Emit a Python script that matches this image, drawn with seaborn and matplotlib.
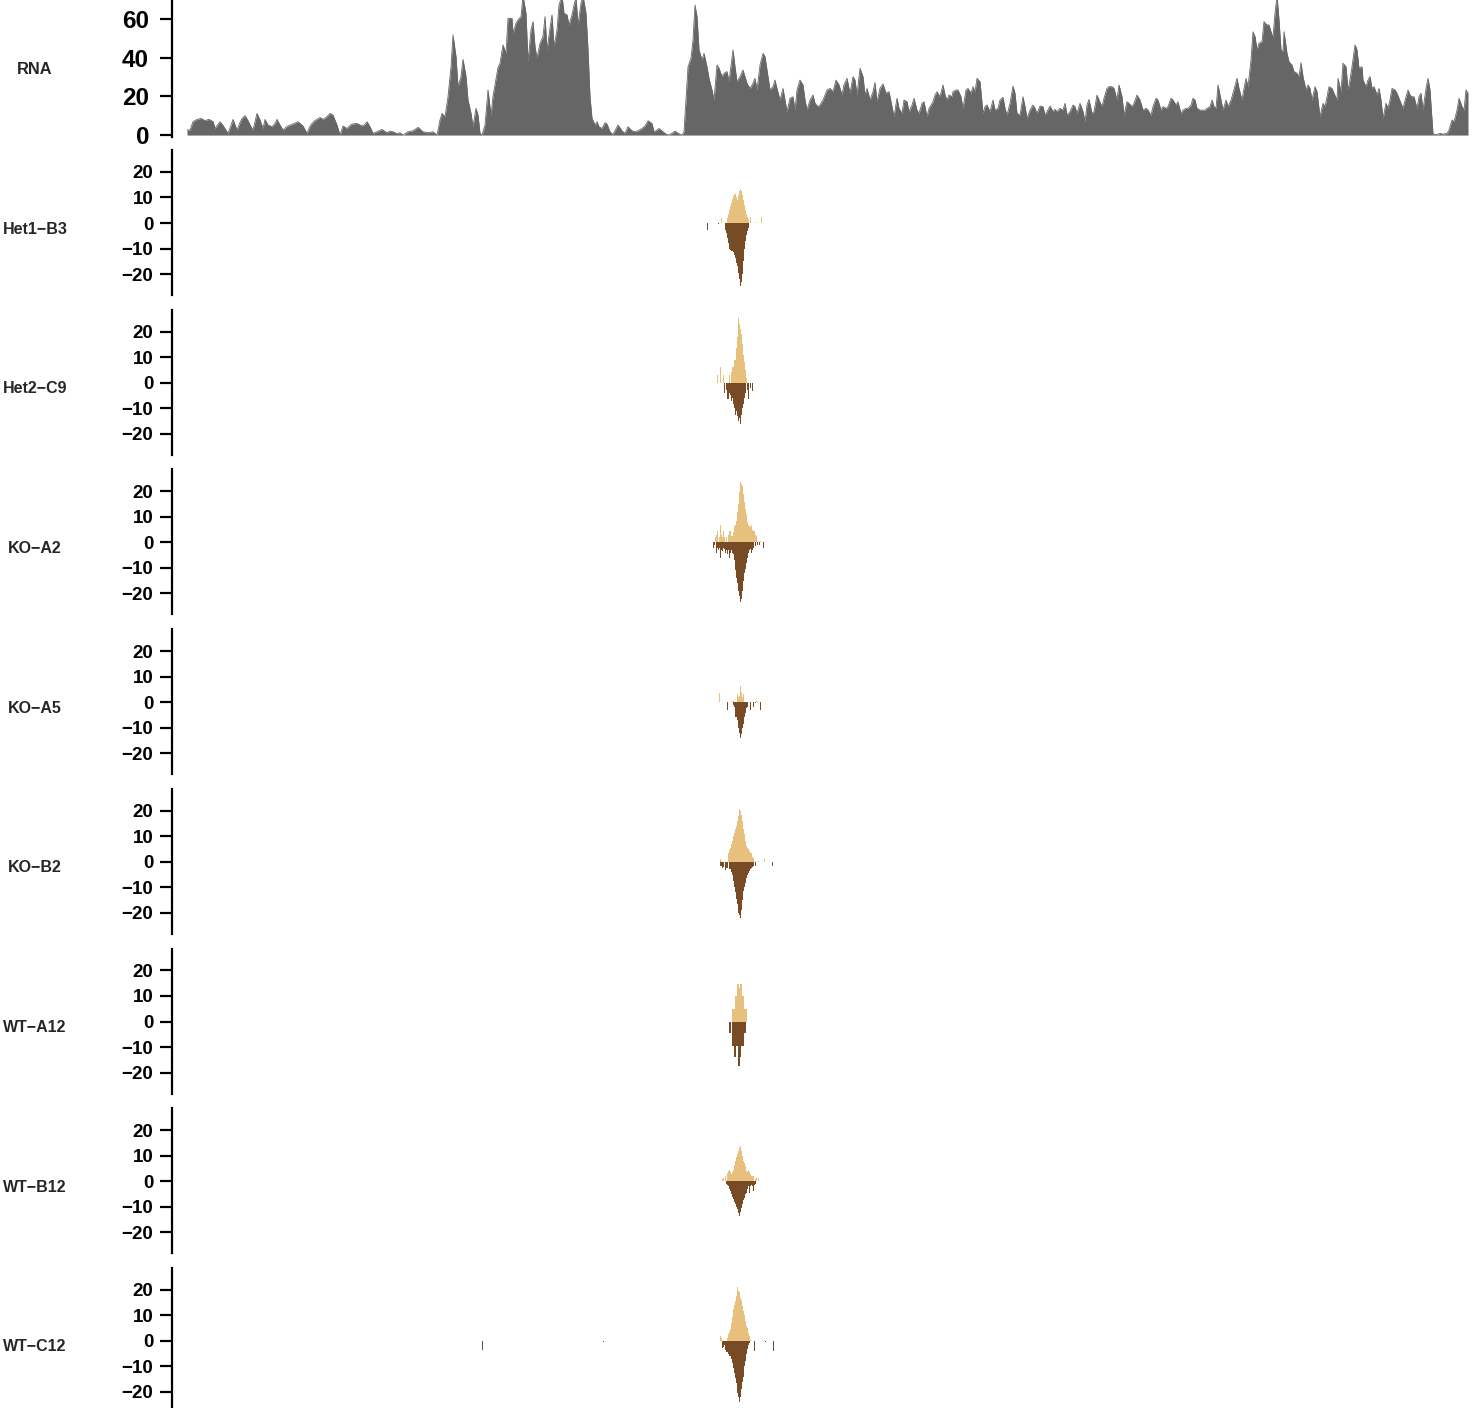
import numpy as np
import pandas as pd
import matplotlib
matplotlib.use("Agg")
import matplotlib.pyplot as plt
import seaborn as sns

sns.set_theme(style="white")
plt.rcParams['font.family'] = ['Liberation Sans', 'DejaVu Sans']
plt.rcParams['font.weight'] = 'bold'

# ---------------- data ----------------
track_labels = ["Het1\u2212B3", "Het2\u2212C9", "KO\u2212A2", "KO\u2212A5",
                "KO\u2212B2", "WT\u2212A12", "WT\u2212B12", "WT\u2212C12"]
rna_label = "RNA"
rna_ticks = [0, 20, 40, 60]
track_ticks = [-20, -10, 0, 10, 20]

# RNA coverage (genomic bin, coverage)
rna_pos = [187, 190, 193, 197, 201, 205, 209, 213, 215, 218, 220, 223, 225, 228, 231, 233, 237, 240, 242, 245,
           248, 250, 253, 257, 260, 263, 265, 268, 272, 275, 277, 280, 283, 286, 288, 293, 298, 303, 307, 310,
           312, 315, 317, 320, 323, 327, 330, 333, 337, 340, 343, 347, 350, 352, 357, 362, 365, 367, 370, 373,
           377, 382, 387, 390, 393, 397, 400, 403, 406, 408, 413, 418, 423, 428, 433, 437, 440, 442, 445, 448,
           451, 453, 456, 458, 461, 463, 466, 468, 471, 473, 476, 478, 480, 482, 485, 488, 491, 493, 495, 498,
           500, 503, 506, 508, 512, 513, 516, 518, 521, 523, 526, 528, 531, 533, 535, 537, 540, 543, 545, 547,
           550, 552, 554, 557, 559, 562, 564, 567, 569, 572, 574, 576, 578, 581, 583, 586, 588, 590, 592, 595,
           597, 599, 602, 605, 607, 610, 613, 618, 622, 625, 628, 632, 635, 638, 642, 645, 648, 652, 654, 657,
           659, 663, 665, 668, 672, 675, 678, 682, 684, 686, 688, 691, 693, 695, 697, 699, 702, 704, 707, 709,
           712, 714, 717, 719, 722, 724, 727, 729, 733, 735, 737, 740, 743, 745, 747, 750, 753, 755, 757, 760,
           763, 765, 767, 770, 773, 775, 777, 780, 783, 785, 787, 790, 793, 795, 797, 800, 803, 805, 807, 810,
           813, 815, 818, 820, 823, 827, 830, 833, 836, 839, 842, 844, 847, 850, 853, 855, 857, 860, 863, 865,
           867, 870, 873, 875, 877, 880, 883, 886, 889, 892, 894, 897, 899, 902, 904, 907, 909, 912, 914, 917,
           919, 922, 924, 927, 929, 933, 935, 937, 940, 943, 945, 947, 949, 952, 953, 956, 958, 961, 963, 966,
           968, 971, 973, 975, 977, 980, 983, 985, 987, 990, 993, 995, 998, 1000, 1003, 1005, 1007, 1010, 1013, 1015,
           1017, 1020, 1023, 1025, 1027, 1030, 1033, 1035, 1037, 1040, 1043, 1045, 1047, 1050, 1053, 1055, 1057, 1060, 1063, 1065,
           1067, 1070, 1073, 1075, 1077, 1080, 1083, 1085, 1087, 1089, 1092, 1094, 1097, 1099, 1102, 1104, 1107, 1109, 1112, 1114,
           1117, 1119, 1122, 1124, 1127, 1129, 1132, 1134, 1137, 1140, 1143, 1146, 1148, 1151, 1153, 1156, 1158, 1161, 1163, 1166,
           1168, 1171, 1173, 1176, 1178, 1181, 1183, 1186, 1188, 1191, 1193, 1195, 1197, 1200, 1203, 1205, 1207, 1210, 1212, 1214,
           1216, 1218, 1221, 1223, 1226, 1228, 1231, 1233, 1237, 1239, 1242, 1244, 1246, 1248, 1251, 1253, 1255, 1257, 1259, 1262,
           1264, 1267, 1269, 1272, 1273, 1275, 1277, 1279, 1281, 1283, 1284, 1287, 1289, 1292, 1294, 1297, 1299, 1301, 1303, 1306,
           1308, 1310, 1312, 1315, 1317, 1320, 1323, 1325, 1327, 1329, 1332, 1334, 1337, 1338, 1341, 1343, 1346, 1348, 1350, 1352,
           1355, 1357, 1359, 1362, 1363, 1366, 1368, 1370, 1372, 1374, 1377, 1379, 1381, 1383, 1386, 1388, 1390, 1392, 1395, 1397,
           1399, 1401, 1403, 1406, 1408, 1410, 1412, 1414, 1417, 1419, 1421, 1423, 1426, 1428, 1430, 1432, 1433, 1437, 1440, 1443,
           1447, 1449, 1452, 1454, 1457, 1459, 1462, 1464, 1466, 1468]
rna_cov = [2.6, 2.6, 6.9, 8.1, 8.6, 7.5, 8.1, 7.0, 3.4, 5.5, 6.9, 5.0, 3.4, 0.9, 5.0, 8.1, 2.6, 6.5, 8.6, 10.0,
           7.5, 5.2, 2.6, 11.2, 7.8, 3.4, 8.1, 5.2, 4.3, 6.0, 8.1, 5.2, 2.6, 4.0, 4.7, 5.7, 6.9, 4.7, 0.9, 4.5,
           6.0, 7.5, 8.1, 9.1, 8.1, 9.5, 11.2, 10.3, 5.2, 0.0, 4.7, 3.4, 5.0, 5.7, 6.0, 4.7, 5.5, 6.9, 4.3, 0.9,
           1.7, 2.9, 1.2, 2.0, 1.7, 0.8, 1.2, 0.0, 1.0, 1.7, 2.2, 4.0, 1.7, 1.2, 1.7, 0.0, 7.8, 11.2, 9.5, 19.8,
           35.3, 51.7, 40.5, 25.0, 30.2, 39.1, 30.2, 18.1, 11.2, 4.3, 13.8, 10.3, 0.9, 0.0, 5.2, 23.3, 10.0, 20.0, 26.0, 35.0,
           37.1, 46.6, 42.2, 60.3, 60.3, 52.6, 57.8, 59.5, 61.2, 72.0, 62.9, 37.9, 54.3, 58.6, 45.7, 39.7, 47.4, 50.9, 61.2, 44.0,
           55.2, 62.1, 45.7, 54.3, 67.2, 72.0, 62.9, 62.1, 56.9, 62.1, 67.2, 71.0, 56.9, 68.1, 72.0, 62.9, 44.0, 19.8, 8.6, 5.2,
           6.9, 4.3, 3.4, 6.4, 5.7, 1.7, 0.3, 5.2, 2.2, 0.9, 4.3, 2.2, 1.7, 2.2, 3.4, 4.7, 7.4, 6.0, 1.7, 2.6,
           3.4, 1.7, 0.9, 0.0, 0.9, 2.1, 0.9, 0.0, 1.7, 18.1, 35.3, 39.7, 49.1, 67.2, 61.2, 44.0, 38.8, 42.2, 35.3, 29.3,
           23.3, 18.1, 36.2, 34.5, 30.2, 31.9, 32.8, 27.6, 44.0, 35.3, 27.6, 30.2, 33.6, 30.2, 26.7, 24.1, 26.7, 29.3, 23.3, 36.2,
           42.2, 40.5, 33.6, 23.3, 25.0, 28.4, 24.1, 18.1, 24.1, 18.1, 12.1, 19.0, 19.8, 12.9, 23.3, 28.4, 25.9, 18.1, 12.9, 18.1,
           20.7, 16.4, 14.7, 15.5, 18.1, 23.3, 24.1, 22.4, 28.4, 25.9, 20.7, 25.9, 29.3, 21.6, 30.2, 28.4, 20.7, 34.5, 30.2, 20.7,
           24.1, 18.1, 22.4, 27.1, 17.2, 24.1, 26.4, 21.6, 22.4, 14.7, 9.5, 19.0, 13.8, 11.2, 18.1, 17.2, 12.1, 15.5, 19.0, 12.9,
           11.2, 16.4, 17.2, 9.5, 13.8, 17.2, 20.7, 22.4, 19.8, 25.9, 20.7, 18.1, 20.7, 19.8, 22.4, 23.3, 23.3, 19.8, 13.8, 23.3,
           24.1, 21.6, 25.0, 22.4, 29.3, 27.6, 11.2, 14.7, 15.5, 12.1, 18.1, 12.9, 13.8, 18.1, 19.5, 13.8, 10.3, 16.4, 25.3, 21.6,
           11.2, 10.3, 19.8, 14.7, 8.6, 12.9, 15.5, 13.8, 11.2, 15.0, 14.7, 10.3, 12.1, 15.0, 12.1, 13.3, 12.1, 13.8, 12.9, 16.4,
           10.3, 12.1, 15.5, 14.7, 11.2, 16.4, 12.1, 6.9, 15.5, 18.4, 11.2, 12.1, 20.7, 18.1, 14.7, 19.0, 24.1, 25.0, 25.0, 24.1,
           18.1, 25.9, 19.8, 10.3, 17.2, 16.4, 14.7, 16.4, 20.7, 18.1, 12.9, 13.8, 12.9, 10.3, 14.7, 19.0, 18.1, 12.9, 14.7, 13.8,
           14.7, 19.0, 18.1, 15.5, 17.2, 11.2, 12.9, 13.8, 13.8, 15.5, 19.0, 18.1, 13.8, 12.9, 12.9, 12.9, 13.8, 14.7, 18.1, 14.7,
           13.8, 25.9, 18.1, 12.9, 18.1, 14.7, 18.1, 21.6, 29.3, 24.1, 18.1, 24.1, 29.3, 25.0, 38.8, 53.4, 50.9, 44.0, 47.4, 48.3,
           58.6, 56.9, 56.9, 51.7, 50.9, 62.9, 72.0, 59.5, 44.0, 43.1, 53.4, 42.2, 37.9, 36.2, 32.8, 31.9, 30.2, 37.4, 30.2, 23.3,
           25.9, 24.1, 18.1, 25.0, 22.4, 9.5, 16.4, 14.7, 19.8, 25.0, 24.1, 21.6, 18.1, 29.3, 22.4, 37.1, 35.3, 23.3, 28.4, 35.3,
           46.6, 44.0, 34.5, 35.3, 28.4, 25.0, 28.4, 30.2, 24.1, 25.0, 20.7, 24.1, 18.1, 8.6, 16.4, 13.8, 18.1, 24.1, 23.3, 21.6,
           19.0, 16.4, 13.8, 19.8, 23.3, 20.7, 19.8, 19.8, 13.8, 19.8, 21.6, 12.9, 24.1, 29.3, 23.3, 7.8, 0.5, 0.3, 0.9, 0.5,
           0.9, 2.6, 7.8, 6.9, 12.9, 19.0, 14.7, 12.9, 23.3, 21.6]

# Stranded signal per sample: forward (+) and reverse (-) strand bins
het1_b3_fwd_pos = [721, 727, 728, 729, 730, 731, 732, 733, 734, 735, 736, 737, 738, 739, 740, 741, 742, 743, 744, 745, 746, 747, 748, 750, 756, 761]
het1_b3_fwd_val = [2, 2, 3.5, 5, 6.5, 8, 9.5, 10.5, 11.5, 11.4, 10, 9.2, 11, 12.5, 13.5, 12.5, 11, 9, 7, 5, 3.5, 2.5, 1.5, 2.5, 0.5, 2.5]
het1_b3_rev_pos = [707, 718, 725, 726, 727, 728, 729, 730, 731, 732, 733, 734, 735, 736, 737, 738, 739, 740, 741, 742, 743, 744, 745, 746, 747, 748]
het1_b3_rev_val = [-2.6, -0.5, -2.6, -4, -6, -8, -10, -10.5, -11, -11, -11.5, -12.5, -13.7, -15.5, -17, -19.5, -22, -24.8, -23, -20, -15, -10, -7, -4.6, -3, -2]

het2_c9_fwd_pos = [717, 720, 723, 729, 731, 732, 733, 734, 735, 736, 737, 738, 739, 740, 741, 742, 743, 744, 745, 746]
het2_c9_fwd_val = [3, 6, 3, 3, 4, 6, 6, 9, 9, 13.5, 18, 25.5, 23, 21, 19, 15, 11, 8, 5, 2]
het2_c9_rev_pos = [724, 726, 727, 728, 729, 730, 731, 732, 733, 734, 735, 736, 737, 738, 739, 740, 741, 742, 743, 744, 745, 747, 748, 750, 752]
het2_c9_rev_val = [-4, -3, -6.5, -6.5, -4, -5, -7, -6, -8.5, -10, -12.5, -11, -13, -15, -14, -16, -12.5, -10, -8.5, -6, -4, -3, -6.5, -2, -3.3]

ko_a2_fwd_pos = [715, 716, 717, 719, 720, 721, 722, 723, 724, 726, 728, 729, 730, 731, 732, 733, 734, 735, 736, 737, 738,
                 739, 740, 741, 742, 743, 744, 745, 746, 747, 748, 749, 750, 751, 752, 753, 754, 755, 756, 758, 760]
ko_a2_fwd_val = [2, 3, 4.6, 2, 7, 3, 2, 4.6, 2, 2.2, 3, 4.6, 4.6, 2.5, 2.6, 4, 6.5, 7, 8.5, 12, 15,
                 19.6, 23.5, 23, 22, 19, 16, 13, 11, 8, 7, 6.5, 6, 7, 5, 4.6, 4.6, 3, 2.6, 0.6, 0.5]
ko_a2_rev_pos = [713, 714, 716, 717, 718, 719, 720, 721, 722, 723, 724, 725, 726, 727, 728, 729, 730, 731, 732, 733, 734, 735,
                 736, 737, 738, 739, 740, 741, 742, 743, 744, 745, 746, 747, 748, 749, 750, 751, 752, 753, 755, 757, 759, 763]
ko_a2_rev_val = [-2.2, -1, -4, -2, -3, -2, -6, -3, -3.5, -2, -2.5, -4.3, -3, -4.5, -3, -6, -4, -3, -4, -4.5, -7, -11,
                 -14, -16, -19, -21, -23.5, -22, -19, -15, -12, -10.5, -8, -6, -4, -3, -2.5, -4, -3, -2, -1.5, -1, -1, -2.2]

ko_a5_fwd_pos = [719, 732, 733, 737, 738, 739, 740, 741, 742, 743, 756, 757]
ko_a5_fwd_val = [3.5, 0.4, 0.4, 3.3, 2, 2.5, 6.5, 4, 2, 3.3, 0.4, 0.4]
ko_a5_rev_pos = [727, 733, 734, 735, 736, 737, 738, 739, 740, 741, 742, 743, 744, 745, 746, 747, 750, 753, 755, 760]
ko_a5_rev_val = [-3.1, -1, -2, -5.8, -6, -7, -10, -12, -14, -12.5, -10, -8.4, -6, -4.4, -2.5, -2, -3.1, -2, -0.5, -3.1]

ko_b2_fwd_pos = [720, 721, 728, 729, 730, 731, 732, 733, 734, 735, 736, 737, 738, 739, 740, 741, 742, 743, 744, 745, 746,
                 747, 748, 749, 750, 751, 752, 753, 755, 758, 764]
ko_b2_fwd_val = [1, 0.5, 3.6, 4.5, 5.5, 7, 8, 10, 11.4, 13, 14, 16, 18, 20.5, 20, 18.5, 16, 13, 10.7, 8, 6.1,
                 5.5, 5, 4.2, 3.5, 3.5, 2, 1.5, 0.5, 0.5, 1]
ko_b2_rev_pos = [720, 721, 722, 723, 725, 726, 727, 729, 730, 731, 732, 733, 734, 735, 736, 737, 738, 739, 740, 741, 742,
                 743, 744, 745, 746, 747, 748, 749, 750, 751, 752, 753, 755, 773]
ko_b2_rev_val = [-1.7, -1.5, -2.5, -2, -3.4, -2.5, -2.5, -3, -3, -4, -5, -7.6, -10, -12, -14.5, -16.7, -20, -21, -22, -19, -15,
                 -11.5, -10, -8.2, -6.5, -5, -4.3, -3.5, -3, -2.5, -2, -1.5, -1.5, -1.7]

wt_a12_fwd_pos = [732, 733, 734, 735, 736, 737, 738, 739, 740, 741, 742, 743, 744, 745, 746]
wt_a12_fwd_val = [5, 5, 5, 10, 10, 14.8, 14.8, 13, 14.8, 14.8, 10, 10, 5, 5, 5]
wt_a12_rev_pos = [729, 730, 732, 733, 734, 735, 736, 737, 738, 739, 740, 741, 742, 743, 744, 745]
wt_a12_rev_val = [-4.4, -4.4, -9.4, -9.4, -14, -14, -9.4, -9.4, -17.6, -17.6, -14, -9.4, -9.4, -9.4, -4.4, -4.4]

wt_b12_fwd_pos = [722, 723, 725, 727, 728, 729, 730, 731, 732, 733, 734, 735, 736, 737, 738, 739, 740, 741, 742, 743, 744,
                  745, 746, 747, 748, 749, 750, 751, 752, 753, 755, 756, 758]
wt_b12_fwd_val = [1, 1.3, 2, 3.3, 4, 4.2, 3.5, 3, 3.5, 4.5, 6.5, 8, 9.5, 10.5, 12, 13, 13.7, 12, 10, 8, 7,
                  6, 4, 3.5, 4.5, 3.5, 3, 2, 2, 2, 1, 1.5, 1.3]
wt_b12_rev_pos = [726, 727, 728, 729, 730, 731, 732, 733, 734, 735, 736, 737, 738, 739, 740, 741, 742, 743, 744, 745,
                  746, 747, 748, 749, 750, 751, 752, 753, 754, 755]
wt_b12_rev_val = [-1, -1.5, -2, -3, -4, -5, -6, -7, -8, -9, -10, -11, -12.4, -13.7, -12, -10.5, -9, -7.5, -6.5, -5,
                  -4.5, -3, -2, -4.6, -2, -1.5, -2, -3.9, -1.5, -1]

wt_c12_fwd_pos = [720, 721, 727, 728, 729, 730, 731, 732, 733, 734, 735, 736, 737, 738, 739, 740, 741, 742, 743, 744,
                  745, 746, 747, 748, 749, 750, 764]
wt_c12_fwd_val = [2, 1, 1, 2.6, 3.5, 4.6, 7, 9.2, 12.4, 14, 15.7, 17.6, 21, 19.5, 19, 17, 16, 13.5, 11.8, 10,
                  7.8, 6, 5.2, 3, 2, 0.5, 0.5]
wt_c12_rev_pos = [483, 603, 722, 723, 724, 725, 726, 727, 728, 729, 730, 731, 732, 733, 734, 735, 736, 737, 738, 739,
                  740, 741, 742, 743, 744, 745, 746, 747, 748, 749, 754, 765, 774]
wt_c12_rev_val = [-3.5, -0.5, -2.9, -2.5, -1.5, -3.5, -4.2, -4.5, -5, -6.1, -6, -7, -8.8, -10.5, -12.7, -14.5, -16.6, -20.5, -22, -23.8,
                  -22, -19, -16, -14, -10, -8, -5, -3, -1.5, -1, -3.9, -0.5, -3.9]

tracks = [
    (het1_b3_fwd_pos, het1_b3_fwd_val, het1_b3_rev_pos, het1_b3_rev_val),
    (het2_c9_fwd_pos, het2_c9_fwd_val, het2_c9_rev_pos, het2_c9_rev_val),
    (ko_a2_fwd_pos, ko_a2_fwd_val, ko_a2_rev_pos, ko_a2_rev_val),
    (ko_a5_fwd_pos, ko_a5_fwd_val, ko_a5_rev_pos, ko_a5_rev_val),
    (ko_b2_fwd_pos, ko_b2_fwd_val, ko_b2_rev_pos, ko_b2_rev_val),
    (wt_a12_fwd_pos, wt_a12_fwd_val, wt_a12_rev_pos, wt_a12_rev_val),
    (wt_b12_fwd_pos, wt_b12_fwd_val, wt_b12_rev_pos, wt_b12_rev_val),
    (wt_c12_fwd_pos, wt_c12_fwd_val, wt_c12_rev_pos, wt_c12_rev_val),
]

# ---------------- styling ----------------
RNA_COLOR = "#666666"
FWD_COLOR = "#E8C07E"
REV_COLOR = "#774B26"

W, H = 1479, 1408
fig = plt.figure(figsize=(W / 100, H / 100), dpi=100)
XLIM = (172, 1469)


def px_axes(top, bottom, left=172, right=1469):
    return fig.add_axes([left / W, 1 - bottom / H, (right - left) / W, (bottom - top) / H])


def style(ax, ticks, fs, pad):
    for s in ["top", "right", "bottom"]:
        ax.spines[s].set_visible(False)
    ax.spines["left"].set_linewidth(1.6)
    ax.spines["left"].set_color("black")
    ax.set_facecolor("none")
    ax.grid(False)
    ax.set_xticks([])
    ax.set_yticks(ticks)
    ax.set_yticklabels([str(t).replace("-", "\u2212") for t in ticks])
    ax.tick_params(axis="y", left=True, length=8.5, width=1.6, color="black",
                   labelsize=fs, pad=pad, labelcolor="black")
    for lab in ax.get_yticklabels():
        lab.set_fontweight("bold")
    ax.set_xlabel("")
    ax.set_ylabel("")
    ax.set_xlim(*XLIM)


# RNA track
ax = px_axes(-1, 137)
sns.lineplot(x=rna_pos, y=rna_cov, ax=ax, color=RNA_COLOR, lw=0.6)
ax.fill_between(rna_pos, 0, rna_cov, color=RNA_COLOR, lw=0)
ax.set_ylim(-1.0, 70.3)
style(ax, rna_ticks, 17.5, 8)
fig.text(35 / W, 1 - 69 / H, rna_label, ha="center", va="center", fontsize=11.8, fontweight="bold")

# Stranded tracks
for i, (fp, fv, rp, rv) in enumerate(tracks):
    zero = 223 + 159.7 * i
    ax = px_axes(zero - 73, zero + 72)
    sns.barplot(x=fp, y=fv, native_scale=True, orient="x", color=FWD_COLOR, saturation=1,
                width=1, linewidth=0, errorbar=None, ax=ax)
    sns.barplot(x=rp, y=rv, native_scale=True, orient="x", color=REV_COLOR, saturation=1,
                width=1, linewidth=0, errorbar=None, ax=ax)
    ax.set_ylim(-28.2, 28.6)
    style(ax, track_ticks, 13.5, 5)
    fig.text(35 / W, 1 - (zero + 6) / H, track_labels[i], ha="center", va="center",
             fontsize=11.5, fontweight="bold")

fig.savefig("out.png", dpi=100)
